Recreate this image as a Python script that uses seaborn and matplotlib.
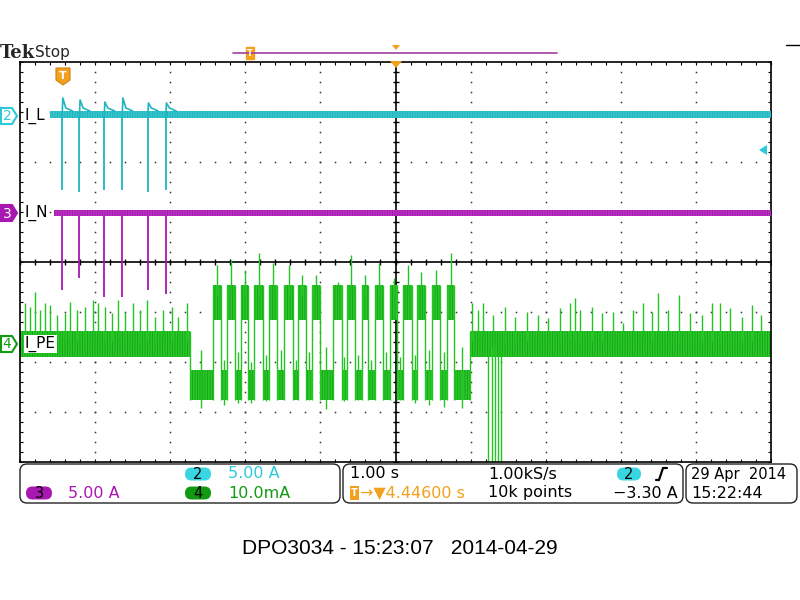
import numpy as np
import matplotlib
matplotlib.use("Agg")
import matplotlib.pyplot as plt
import seaborn as sns
from matplotlib.patches import FancyBboxPatch, Polygon

sns.set_theme(style="white")
plt.rcParams['font.family'] = ['DejaVu Sans']
plt.rcParams['hatch.linewidth'] = 0.7

# --- data (time in s, 1 s/div; amplitude in divisions) ---
events_t = [0.56, 0.79, 1.12, 1.36, 1.70, 1.94]

# channel 2, I_L
il_band = [2.88, 3.02]
il_start = 0.40
il_dips = [1.44, 1.40, 1.44, 1.44, 1.40, 1.44]
il_peaks = [3.28, 3.24, 3.20, 3.28, 3.18, 3.18]

# channel 3, I_N
in_band = [0.92, 1.05]
in_start = 0.45
in_dips = [-0.56, -0.32, -0.70, -0.70, -0.56, -0.64]

# channel 4, I_PE
pe_idle_band = [-1.90, -1.38]
pe_high_band = [-1.16, -0.46]
pe_low_band = [-2.76, -2.16]
pe_idle_end = 2.26
pe_resume = 5.99
pe_high_start = [2.57, 2.76, 2.94, 3.12, 3.32, 3.52, 3.70, 3.89, 4.17,
                 4.35, 4.55, 4.73, 4.93, 5.10, 5.29, 5.49, 5.69]
pe_high_end = [2.68, 2.86, 3.04, 3.24, 3.42, 3.64, 3.81, 3.99, 4.29,
               4.46, 4.63, 4.83, 5.02, 5.22, 5.39, 5.59, 5.78]
pe_high_peaks = [-0.06, 0.04, -0.16, 0.18, -0.02, -0.06, -0.26, -0.26, -0.40,
                 0.14, -0.26, -0.02, -0.32, -0.06, -0.20, -0.16, 0.18]
pe_low_mins = [-2.92, -2.86, -2.82, -2.82, -2.78, -2.72, -2.68, -2.76, -2.94,
               -2.78, -2.76, -2.72, -2.72, -2.76, -2.82, -2.86, -2.90, -2.92]
pe_low_peaks = [-1.75, -1.95, -1.80, -2.00, -1.85, -1.75, -1.95, -1.80, -1.70,
                -1.90, -1.85, -1.95, -1.80, -1.90, -1.85, -1.75, -1.80, -1.70]
pe_spike_t = [0.07, 0.13, 0.20, 0.27, 0.33, 0.40, 0.49, 0.60, 0.67, 0.76, 0.87,
              0.97, 1.04, 1.13, 1.22, 1.30, 1.40, 1.50, 1.60, 1.69, 1.80, 1.90,
              2.02, 2.10, 2.22,
              6.02, 6.10, 6.17, 6.30, 6.46, 6.59, 6.75, 6.90, 7.03, 7.19, 7.32,
              7.39, 7.46, 7.62, 7.75, 7.90, 8.03, 8.16, 8.30, 8.42, 8.50, 8.63,
              8.78, 8.92, 9.08, 9.21, 9.32, 9.45, 9.61, 9.75, 9.87]
pe_spike_v = [-0.82, -0.90, -0.60, -0.96, -0.82, -0.86, -1.06, -1.02, -0.80,
              -0.96, -0.90, -0.76, -0.82, -0.90, -1.02, -0.76, -1.00, -0.82,
              -0.96, -0.76, -1.10, -0.96, -0.90, -1.10, -0.82,
              -0.82, -0.96, -0.82, -1.06, -0.90, -1.10, -1.00, -1.06, -1.12,
              -0.92, -0.82, -0.72, -0.96, -0.90, -1.02, -1.00, -1.22, -0.96,
              -0.82, -1.00, -0.62, -0.96, -0.66, -1.02, -1.06, -0.82, -0.82,
              -0.92, -1.10, -0.86, -1.06]
pe_drop_t = [6.23, 6.28, 6.32, 6.36, 6.40]

# --- text ---
title_text = "DPO3034 - 15:23:07   2014-04-29"
ch_names = ["I_L", "I_N", "I_PE"]
scale_ch2 = "5.00 A"
scale_ch3 = "5.00 A"
scale_ch4 = "10.0mA"
timebase = "1.00 s"
sample_rate = "1.00kS/s"
trig_delay = "\u2192\u25bc4.44600 s"
rec_length = "10k points"
trig_level = "\u22123.30 A"
date_text = "29 Apr  2014"
time_text = "15:22:44"

c_cyan = '#1FB5BE'
c_cyan_lt = '#45CCD4'
c_cyan_txt = '#2CCAD8'
c_mag = '#A818B0'
c_mag_lt = '#C040C8'
c_green = '#22C322'
c_green_lt = '#33D633'
c_green_dk = '#18A818'
c_green_txt = '#139A13'
c_orange = '#F2A01E'

fig = plt.figure(figsize=(8, 6), dpi=100)
fig.patch.set_facecolor('white')
ax = fig.add_axes([20 / 800, 138 / 600, 751 / 800, 400 / 600])
ax.set_xlim(0, 10)
ax.set_ylim(-4, 4)
ax.set_facecolor('white')
for s in ax.spines.values():
    s.set_color('black')
    s.set_linewidth(1.2)

# graticule
ax.set_xticks([])
ax.set_yticks([])
ax.set_xticks(np.arange(0, 10.01, 0.2), minor=True)
ax.set_yticks(np.arange(-4, 4.01, 0.2), minor=True)
ax.tick_params(which='minor', direction='in', length=2.5, width=0.8, color='black',
               top=True, bottom=True, left=True, right=True,
               labelbottom=False, labelleft=False)
xdots = np.arange(0, 10.01, 0.2)
ydots = np.arange(-4, 4.01, 0.2)
for gx in range(1, 10):
    if gx != 5:
        ax.plot(np.full(len(ydots), gx), ydots, ls='none', marker='s', ms=1.1,
                mew=0, color='#333333', zorder=1)
for gy in range(-3, 4):
    if gy != 0:
        ax.plot(xdots, np.full(len(xdots), gy), ls='none', marker='s', ms=1.1,
                mew=0, color='#333333', zorder=1)
ax.axhline(0, color='black', lw=1.2, zorder=1)
ax.axvline(5, color='black', lw=1.2, zorder=1)
ax.plot(xdots, np.zeros(len(xdots)), ls='none', marker='|', ms=5, mew=1, color='black', zorder=1)
ax.plot(np.full(len(ydots), 5), ydots, ls='none', marker='_', ms=5, mew=1, color='black', zorder=1)


def band(x0, x1, lo, hi, face, edge, z):
    ax.fill_between([x0, x1], lo, hi, facecolor=face, edgecolor=edge, hatch='||||||||||',
                    lw=0, zorder=z)


# channel 4, I_PE
seg_start = [0.0, pe_idle_end]
seg_kind = ['idle', 'low']
for s, e in zip(pe_high_start, pe_high_end):
    seg_start += [s, e]
    seg_kind += ['high', 'low']
seg_start.append(pe_resume)
seg_kind.append('idle')
seg_end = seg_start[1:] + [10.0]
bands = {'idle': pe_idle_band, 'high': pe_high_band, 'low': pe_low_band}
prev = None
for s, e, k in zip(seg_start, seg_end, seg_kind):
    lo, hi = bands[k]
    band(s, e, lo, hi, c_green_lt, c_green_dk, 2)
    if prev is not None:
        ax.vlines(s, min(lo, prev[0]), max(hi, prev[1]), color=c_green, lw=1.0, zorder=2)
    prev = (lo, hi)
hi_idx = [i for i, k in enumerate(seg_kind) if k == 'high']
lo_idx = [i for i, k in enumerate(seg_kind) if k == 'low']
for i, pk in zip(hi_idx, pe_high_peaks):
    m = (seg_start[i] + seg_end[i]) / 2
    ax.vlines(m, pe_high_band[1] - 0.2, pk, color=c_green, lw=1.0, zorder=2)
for i, mn, pk in zip(lo_idx, pe_low_mins, pe_low_peaks):
    m = (seg_start[i] + seg_end[i]) / 2
    ax.vlines(m, mn, pk, color=c_green, lw=1.0, zorder=2)
ax.vlines(pe_spike_t, pe_idle_band[1] - 0.2, pe_spike_v, color=c_green, lw=1.0, zorder=2)
ax.vlines(pe_drop_t, -4.2, pe_idle_band[0] + 0.2, color=c_green, lw=1.0, zorder=2)

# channel 3, I_N
band(in_start, 10, in_band[0], in_band[1], c_mag_lt, c_mag, 3)
ax.vlines(events_t, in_dips, in_band[0], color=c_mag, lw=1.3, zorder=3)

# channel 2, I_L
band(il_start, 10, il_band[0], il_band[1], c_cyan_lt, c_cyan, 4)
ax.vlines(events_t, il_dips, il_band[0], color=c_cyan, lw=1.3, zorder=4)
for t, p in zip(events_t, il_peaks):
    ax.plot([t, t + 0.01, t + 0.05, t + 0.14], [il_band[0], p, il_band[1] + 0.06, il_band[1]],
            color=c_cyan, lw=1.2, zorder=4)

# --- overlay in pixel coordinates ---
ov = fig.add_axes([0, 0, 1, 1], zorder=5)
ov.set_xlim(0, 800)
ov.set_ylim(600, 0)
ov.axis('off')
ov.patch.set_alpha(0)

ov.text(0, 53, "Tek", fontsize=13, fontweight='bold', family='DejaVu Serif',
        va='center', ha='left')
ov.text(35, 53, "Stop", fontsize=11, va='center', ha='left')

# record view bar
ov.plot([233, 557], [53, 53], color='#A040A0', lw=1.2)
ov.add_patch(FancyBboxPatch((246, 47), 8, 12, boxstyle="square,pad=0",
                            fc=c_orange, ec=c_orange))
ov.text(250, 53.5, "T", fontsize=6, color='white', ha='center', va='center', fontweight='bold')
ov.add_patch(Polygon([(392, 45), (400, 45), (396, 50)], closed=True, fc=c_orange, ec='none'))
ov.add_patch(Polygon([(390, 61), (402, 61), (396, 68)], closed=True, fc=c_orange, ec='none'))

# trigger position marker
ov.add_patch(Polygon([(56, 68), (70, 68), (70, 80), (63, 85), (56, 80)], closed=True,
                     fc=c_orange, ec='#D08010', lw=0.8))
ov.text(63, 76, "T", fontsize=8, color='white', ha='center', va='center', fontweight='bold')

# trigger level arrow
ov.add_patch(Polygon([(759, 150), (767, 145), (767, 155)], closed=True, fc=c_cyan_txt, ec='none'))
ov.plot([786, 800], [45, 45], color='black', lw=1)


# channel markers + names
def ch_marker(y, num, edge, face, txtc):
    ov.add_patch(Polygon([(1, y - 8), (12, y - 8), (17, y), (12, y + 8), (1, y + 8)],
                         closed=True, fc=face, ec=edge, lw=1.5))
    ov.text(7, y + 0.5, num, fontsize=10, color=txtc, ha='center', va='center')


ch_marker(116, "2", c_cyan_txt, 'white', c_cyan_txt)
ch_marker(213, "3", c_mag, c_mag, 'white')
ch_marker(344, "4", c_green_txt, 'white', c_green_txt)
for y, name in zip([116, 213, 344], ch_names):
    ov.text(25, y, name, fontsize=11, va='center', ha='left', color='black',
            bbox=dict(fc='white', ec='none', pad=0.5))

# info boxes
for x0, x1 in [(20, 340), (343, 683), (686, 797)]:
    ov.add_patch(FancyBboxPatch((x0, 464), x1 - x0, 39,
                                boxstyle="round,pad=0,rounding_size=7",
                                fc='white', ec='#222222', lw=1.0))


def pill(x0, y, w, num, face):
    ov.add_patch(FancyBboxPatch((x0, y - 6.5), w, 13, boxstyle="round,pad=0,rounding_size=6.5",
                                fc=face, ec='none'))
    ov.text(x0 + w / 2, y + 0.5, num, fontsize=10.5, color='black', ha='center', va='center')


r1, r2 = 474, 493
fs = 11.5
pill(185, r1, 26, "2", '#38D6E2')
ov.text(228, r1, scale_ch2, fontsize=fs, color=c_cyan_txt, va='center')
pill(26, r2, 26, "3", c_mag)
ov.text(68, r2, scale_ch3, fontsize=fs, color=c_mag, va='center')
pill(185, r2, 26, "4", '#139A13')
ov.text(228, r2, scale_ch4, fontsize=fs, color=c_green_txt, va='center')

ov.text(350, r1, timebase, fontsize=fs, color='black', va='center')
ov.text(488, r1, sample_rate, fontsize=fs, color='black', va='center')
pill(617, r1, 24, "2", '#38D6E2')
ov.plot([656, 659, 663, 667], [480, 480, 468, 468], color='black', lw=1.6)
ov.add_patch(FancyBboxPatch((350, r2 - 7), 9, 14, boxstyle="square,pad=0",
                            fc=c_orange, ec='none'))
ov.text(354.5, r2, "T", fontsize=7, color='white', ha='center', va='center', fontweight='bold')
ov.text(360, r2, trig_delay, fontsize=fs, color=c_orange, va='center')
ov.text(488, r2, rec_length, fontsize=fs, color='black', va='center')
ov.text(678, r2, trig_level, fontsize=fs, color='black', va='center', ha='right')
ov.text(691, r1, date_text, fontsize=10.5, color='black', va='center')
ov.text(691, r2, time_text, fontsize=fs, color='black', va='center')

ov.text(400, 548, title_text, fontsize=15, family='Liberation Sans', ha='center', va='center',
        color='black')

fig.savefig("out.png", dpi=100, facecolor='white')
